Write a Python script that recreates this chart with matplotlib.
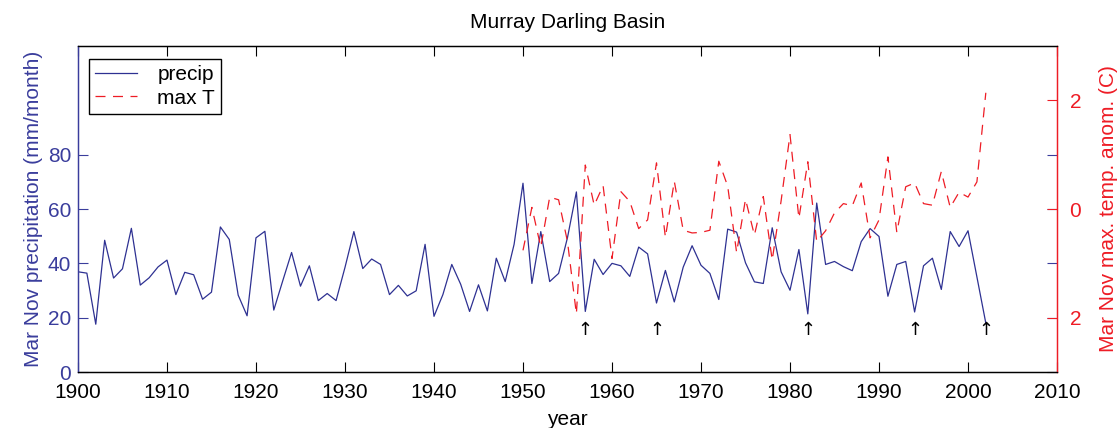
import matplotlib
matplotlib.use("Agg")
import matplotlib.pyplot as plt
import numpy as np

plt.rcParams['font.family'] = ['Liberation Sans', 'DejaVu Sans']

BLUE = "#2e3192"
BLUE_TXT = "#3a3d9c"
RED = "#ee1c25"

# Mar-Nov precipitation (mm/month), 1900-2002
precip_years = np.arange(1900, 2003)
precip = [36.9, 36.4, 17.6, 48.5, 34.6, 38.0, 52.9, 32.0, 34.7, 38.7,
          41.2, 28.5, 36.7, 35.8, 26.8, 29.4, 53.4, 48.8, 28.3, 20.7,
          49.4, 51.8, 22.8, 33.5, 44.0, 31.6, 39.1, 26.3, 28.9, 26.3,
          38.5, 51.7, 38.1, 41.6, 39.6, 28.5, 31.9, 28.0, 29.9, 47.0,
          20.5, 28.5, 39.6, 32.3, 22.3, 32.1, 22.5, 41.9, 33.3, 47.0,
          69.5, 32.6, 51.7, 33.3, 36.3, 49.5, 66.3, 22.3, 41.5, 35.9,
          40.0, 39.1, 35.2, 46.0, 43.5, 25.4, 37.4, 25.8, 38.6, 46.5,
          39.3, 36.3, 26.7, 52.6, 51.5, 40.2, 33.2, 32.6, 53.1, 36.9,
          30.1, 45.1, 21.4, 62.2, 39.6, 40.7, 38.8, 37.3, 48.0, 52.8,
          49.9, 27.9, 39.6, 40.7, 22.1, 39.1, 41.9, 30.4, 51.7, 46.2,
          52.0, 35.0, 18.0]

# Mar-Nov max temperature anomaly (C), 1950-2002
temp_years = np.arange(1950, 2003)
temp = [-0.76, 0.03, -0.70, 0.22, 0.17, -0.60, -1.93, 0.81, 0.07, 0.43,
        -0.91, 0.32, 0.14, -0.36, -0.20, 0.85, -0.52, 0.51, -0.39, -0.44,
        -0.43, -0.39, 0.88, 0.42, -0.80, 0.18, -0.48, 0.23, -0.94, 0.15,
        1.37, -0.17, 0.87, -0.60, -0.40, -0.07, 0.10, 0.06, 0.48, -0.53,
        -0.20, 0.96, -0.43, 0.41, 0.48, 0.10, 0.07, 0.69, 0.03, 0.31,
        0.22, 0.50, 2.14]

# dry years marked with arrows
arrow_years = [1957, 1965, 1982, 1994, 2002]

fig = plt.figure(figsize=(11.17, 4.28), dpi=100)
ax1 = fig.add_axes([0.0698, 0.1308, 0.8765, 0.7616])
ax2 = ax1.twinx()

l1, = ax1.plot(precip_years, precip, color=BLUE, lw=0.9, label="precip")
l2, = ax2.plot(temp_years, temp, color=RED, lw=0.9, dashes=(8, 6), label="max T")

for yr in arrow_years:
    ax1.text(yr, 15.5, "\u2191", ha="center", va="center", fontsize=13,
             family=["DejaVu Sans"], color="black")

ax1.set_xlim(1900, 2010)
ax1.set_ylim(0, 120)
ax1.set_xticks(np.arange(1900, 2011, 10))
ax1.set_yticks([0, 20, 40, 60, 80])
ax2.set_ylim(-3, 3)
ax2.set_yticks([-2, 0, 2])
ax2.set_yticklabels(["2", "0", "2"])

ax1.tick_params(axis="x", direction="in", top=True, length=7, labelsize=15,
                pad=8, width=0.8)
ax1.tick_params(axis="y", direction="in", right=True, length=7, labelsize=15,
                colors=BLUE_TXT, width=0.8, pad=5)
ax2.tick_params(axis="y", direction="in", length=7, labelsize=15,
                colors=RED, width=0.8, pad=9)

ax1.spines["left"].set_color(BLUE_TXT)
ax2.spines["left"].set_color(BLUE_TXT)
ax2.spines["right"].set_color(RED)
ax1.spines["right"].set_color(RED)
for ax in (ax1, ax2):
    for s in ax.spines.values():
        s.set_linewidth(0.9)

ax1.set_xlabel("year", fontsize=15, labelpad=6)
ax1.set_ylabel("Mar Nov precipitation (mm/month)", fontsize=15,
               color=BLUE_TXT, labelpad=3)
ax2.set_ylabel("Mar Nov max. temp. anom. (C)", fontsize=15, color=RED,
               labelpad=13)
ax1.set_title("Murray Darling Basin", fontsize=15, pad=13)

leg = ax2.legend([l1, l2], ["precip", "max T"], loc="upper left",
                 bbox_to_anchor=(0.011, 0.96), borderaxespad=0,
                 fontsize=15, fancybox=False, framealpha=1,
                 handlelength=2.0, handletextpad=1.0, borderpad=0.3,
                 labelspacing=0.2)
leg.get_frame().set_edgecolor("black")
leg.get_frame().set_linewidth(1.0)

fig.savefig("out.png", dpi=100)
